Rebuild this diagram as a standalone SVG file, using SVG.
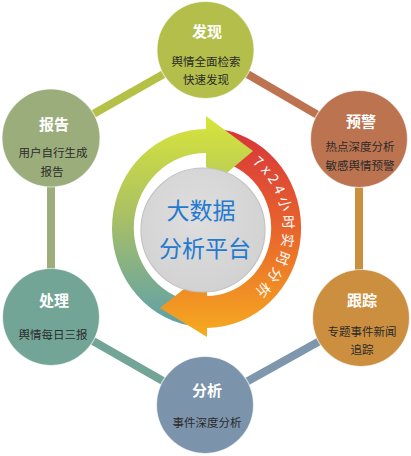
<svg xmlns="http://www.w3.org/2000/svg" width="411" height="456" viewBox="0 0 411 456">
<defs>
<linearGradient id="gGreen" gradientUnits="userSpaceOnUse" x1="0" y1="118" x2="0" y2="328">
<stop offset="0" stop-color="#d8e43a"/>
<stop offset="0.45" stop-color="#abc163"/>
<stop offset="1" stop-color="#5c9fab"/>
</linearGradient>
<linearGradient id="gRed" gradientUnits="userSpaceOnUse" x1="0" y1="128" x2="0" y2="337">
<stop offset="0" stop-color="#d8343b"/>
<stop offset="0.5" stop-color="#e8662c"/>
<stop offset="1" stop-color="#f6ab1f"/>
</linearGradient>
<radialGradient id="gGray" cx="0.45" cy="0.4" r="0.6">
<stop offset="0" stop-color="#dedede"/>
<stop offset="1" stop-color="#d2d2d2"/>
</radialGradient>
<path id="ringText" d="M 219.4 148.2 A 77 81 0 0 1 219.4 307.8"/>
</defs>
<style>
.conn { stroke-width: 8; fill: none; }
.node circle { stroke: #ffffff; stroke-opacity: 0.6; stroke-width: 1.2; }
.title { font-family: "Noto Sans CJK SC", "Microsoft YaHei", sans-serif; font-size: 15px; font-weight: bold; fill: #ffffff; text-anchor: middle; }
.sub { font-family: "Noto Sans CJK SC", "Microsoft YaHei", sans-serif; font-size: 11.5px; fill: #2b2b2b; text-anchor: middle; }
.center { font-family: "Noto Sans CJK SC", "Microsoft YaHei", sans-serif; font-size: 23px; fill: #2479d0; text-anchor: middle; }
.ring { font-family: "Noto Sans CJK SC", "Microsoft YaHei", sans-serif; font-size: 14px; fill: #ffffff; letter-spacing: 3.5px; }
</style>
<rect width="411" height="456" fill="#ffffff"/>
<g id="connectors">
<line class="conn" x1="51" y1="138" x2="206" y2="50" stroke="#b5c146"/>
<line class="conn" x1="206" y1="50" x2="359" y2="139" stroke="#bd7350"/>
<line class="conn" x1="359" y1="139" x2="359" y2="318" stroke="#c9913f"/>
<line class="conn" x1="361" y1="318" x2="205" y2="405" stroke="#7e97ad"/>
<line class="conn" x1="205" y1="405" x2="51" y2="317" stroke="#73a596"/>
<line class="conn" x1="51" y1="317" x2="51" y2="138" stroke="#9dae7c"/>
</g>
<g id="cycle">
<path d="M 189.7 325.5 A 94 99 0 0 1 206 129 L 206 153 A 72 75 0 0 0 193.5 301.9 Z" fill="url(#gGreen)"/>
<path d="M 222.5 129.5 A 95 100 0 0 1 206 328 L 206 296 A 65 68 0 0 0 217.3 161 Z" fill="url(#gRed)"/>
<path d="M 206 116 L 253 151 L 222 177 L 206 167 Z" fill="url(#gGreen)"/>
<path d="M 207 337 L 160 308 L 189 285 L 207 291 Z" fill="url(#gRed)"/>
<text class="ring"><textPath href="#ringText" startOffset="50%" text-anchor="middle">7x24小时实时分析</textPath></text>
</g>
<g id="center">
<circle cx="203" cy="230" r="62" fill="url(#gGray)" stroke="#c2c2c2" stroke-width="1.2"/>
<text class="center" x="201" y="219">大数据</text>
<text class="center" x="205" y="257">分析平台</text>
</g>
<g id="node-faxian" class="node">
<circle cx="205.5" cy="50" r="48.5" fill="#b3bf4a"/>
<text class="title" x="207" y="37">发现</text>
<text class="sub" x="206" y="66">舆情全面检索</text>
<text class="sub" x="206" y="84">快速发现</text>
</g>
<g id="node-yujing" class="node">
<circle cx="359" cy="139" r="48.5" fill="#bc7350"/>
<text class="title" x="361" y="127">预警</text>
<text class="sub" x="360" y="151">热点深度分析</text>
<text class="sub" x="360" y="170">敏感舆情预警</text>
</g>
<g id="node-genzong" class="node">
<circle cx="361" cy="318" r="48.5" fill="#cb8f3f"/>
<text class="title" x="362" y="306">跟踪</text>
<text class="sub" x="362" y="336">专题事件新闻</text>
<text class="sub" x="362" y="354">追踪</text>
</g>
<g id="node-fenxi" class="node">
<circle cx="205" cy="405" r="48.5" fill="#7b93ab"/>
<text class="title" x="207" y="396">分析</text>
<text class="sub" x="207" y="427">事件深度分析</text>
</g>
<g id="node-chuli" class="node">
<circle cx="51" cy="317" r="48.5" fill="#73a597"/>
<text class="title" x="54" y="306">处理</text>
<text class="sub" x="53" y="339">舆情每日三报</text>
</g>
<g id="node-baogao" class="node">
<circle cx="51" cy="138" r="49" fill="#9cad7c"/>
<text class="title" x="54" y="130">报告</text>
<text class="sub" x="53" y="157">用户自行生成</text>
<text class="sub" x="52" y="176">报告</text>
</g>
</svg>
